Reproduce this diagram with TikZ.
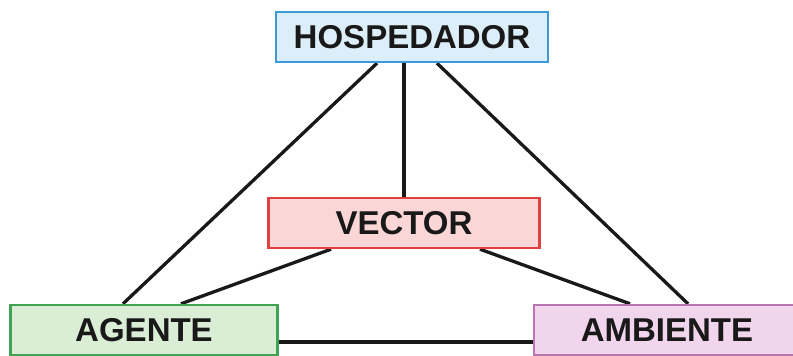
\documentclass[tikz,border=0pt]{standalone}
\usepackage{fontspec}
\setmainfont{Liberation Sans}
\usetikzlibrary{calc,backgrounds}
\definecolor{hostfill}{HTML}{DCEEF9}
\definecolor{hostline}{HTML}{3A9AD9}
\definecolor{vecfill}{HTML}{FBD6D6}
\definecolor{vecline}{HTML}{E0403E}
\definecolor{agfill}{HTML}{DAEDD5}
\definecolor{agline}{HTML}{3FA351}
\definecolor{ambfill}{HTML}{F1D5EC}
\definecolor{ambline}{HTML}{B775B4}
\tikzset{
  box/.style={draw, line width=2.4pt, minimum height=50pt, inner sep=0pt,
    font=\fontsize{33}{36}\selectfont\bfseries, text=black!90},
  link/.style={line width=3.3pt, black!90}
}
\begin{document}
\begin{tikzpicture}[x=1pt,y=-1pt]
  \useasboundingbox (0,0) rectangle (793,356);
  \clip (0,0) rectangle (793,356);
  \node[box, fill=hostfill, draw=hostline, minimum width=272pt] (hosp) at (412,37) {HOSPEDADOR};
  \node[box, fill=vecfill, draw=vecline, minimum width=271pt] (vec) at (404,223) {VECTOR};
  \node[box, fill=agfill, draw=agline, minimum width=267pt] (ag) at (144,330) {AGENTE};
  \node[box, fill=ambfill, draw=ambline, minimum width=266pt] (amb) at (667,330) {AMBIENTE};
  \begin{scope}[on background layer]
    \fill[white] (0,0) rectangle (793,356);
    \draw[link] ([xshift=-35pt]hosp.south) -- ([xshift=-21pt]ag.north);
    \draw[link] ([xshift=25pt]hosp.south) -- ([xshift=21pt]amb.north);
    \draw[link] (hosp.south -| vec.north) -- (vec.north);
    \draw[link] ([xshift=-73pt]vec.south) -- ([xshift=37pt]ag.north);
    \draw[link] ([xshift=76pt]vec.south) -- ([xshift=-37pt]amb.north);
    \draw[link] ([yshift=-12pt]ag.east) -- ([yshift=-12pt]amb.west);
  \end{scope}
\end{tikzpicture}
\end{document}
